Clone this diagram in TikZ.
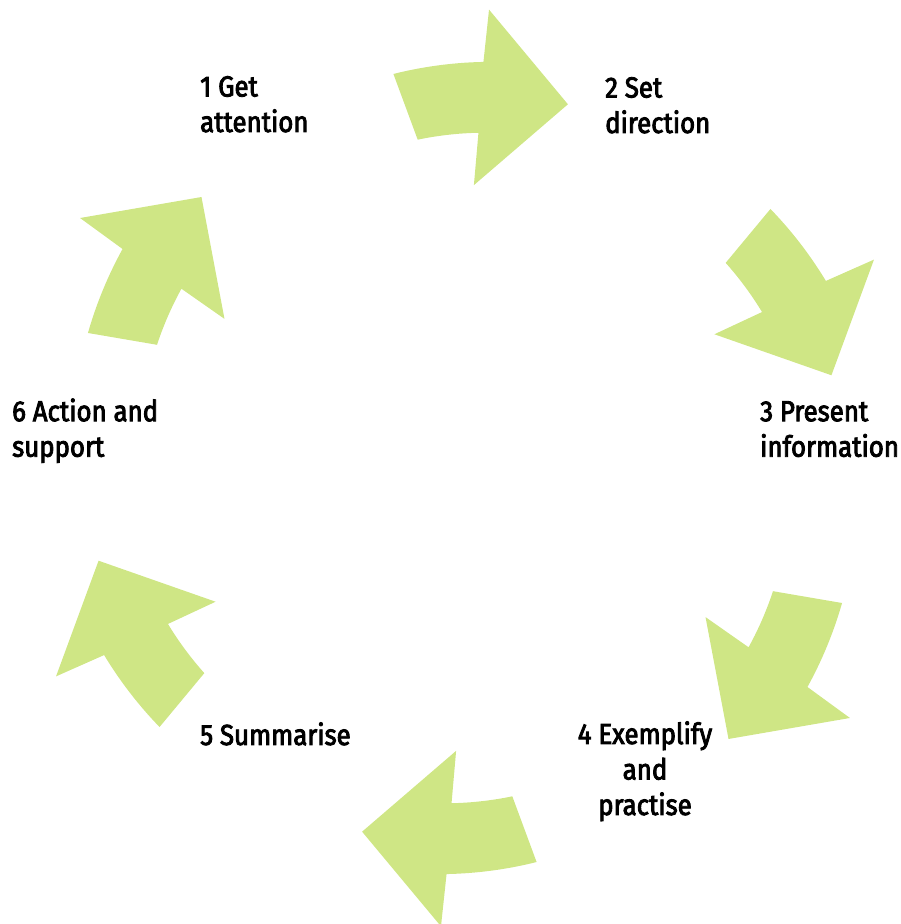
\documentclass[tikz,border=0pt]{standalone}
\usepackage{fontspec}
\setmainfont{Fira Sans}[FakeStretch=0.89,FakeBold=3]
\definecolor{arrowgreen}{RGB}{207,230,133}
\begin{document}
\begin{tikzpicture}[x=1pt,y=1pt,
  cyclearrow/.style={fill=arrowgreen},
  steplabel/.style={inner sep=0pt,anchor=base west,align=left,
    font=\fontsize{29}{35.5}\selectfont}]
  \useasboundingbox (0,0) rectangle (900,924);
  % Six curved arrows around the centre
  \begin{scope}[shift={(465,456)}]
    \foreach \k in {0,...,5}{
      \fill[cyclearrow,rotate=-60*\k]
        plot[domain=100.3:87.4,samples=20] (\x:{400.5+(100.3-\x)*0.465})
        -- (87.0:459) -- (74.2:378) -- (88.2:283)
        -- plot[domain=87.7:98.2,samples=20] (\x:{335.5-(\x-87.7)*0.36})
        -- cycle;
    }
  \end{scope}
  % Step labels (anchored at the baseline of the last line)
  \node[steplabel] (get) at (200,792) {1 Get\\attention};
  \node[steplabel] (set) at (605,791) {2 Set\\direction};
  \node[steplabel] (present) at (760,467.3) {3 Present\\information};
  \node[steplabel,anchor=base,align=center] (exemplify) at (645,109) {4 Exemplify\\and\\practise};
  \node[steplabel] (summarise) at (200,179) {5 Summarise};
  \node[steplabel] (action) at (12,467.3) {6 Action and\\support};
\end{tikzpicture}
\end{document}
